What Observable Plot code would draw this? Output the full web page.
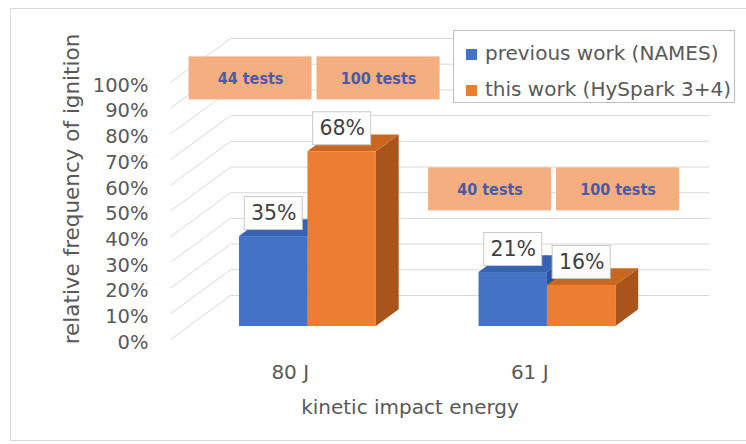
<!DOCTYPE html>
<html>
<head>
<meta charset="utf-8">
<script src="https://cdn.jsdelivr.net/npm/d3@7"></script>
<script src="https://cdn.jsdelivr.net/npm/@observablehq/plot@0.6"></script>
<style>
  html, body { margin: 0; padding: 0; background: #fff; }
  body { width: 746px; height: 444px; overflow: hidden; position: relative; font-family: "DejaVu Sans", sans-serif; }
  #frame { position: absolute; left: 10px; top: 8px; width: 900px; height: 433px; border: 1px solid #d9d9d9; box-sizing: border-box; }
  #chart { position: absolute; left: 0; top: 0; }
  #legend { position: absolute; left: 453px; top: 30px; width: 282px; height: 73px; box-sizing: border-box;
            border: 1px solid #bfbfbf; background: #fff; color: #595959; font-size: 20px; }
  #legend .row { position: absolute; left: 12px; height: 24px; line-height: 24px; white-space: nowrap; }
  #legend .sw { display: inline-block; width: 11px; height: 11px; margin-right: 8px; vertical-align: 0px; }
</style>
</head>
<body>
<div id="frame"></div>
<div id="chart"></div>
<div id="legend"></div>
<script>
// ---- data ----
const categories = ["80 J", "61 J"];
const seriesNames = ["previous work (NAMES)", "this work (HySpark 3+4)"];
const previousWork = [35, 21];   // % ignition
const thisWork = [68, 16];       // % ignition
const previousTests = [44, 40];  // number of tests
const thisTests = [100, 100];
const yTicks = [0, 10, 20, 30, 40, 50, 60, 70, 80, 90, 100];

// ---- styling / 3D layout ----
const FONT = "DejaVu Sans";
const colors = {
  front: ["#4472c4", "#ed7d31"],
  top:   ["#3562b2", "#c9661f"],
  side:  ["#2d5296", "#a9541b"]
};
const BAND = 3.5;          // width of one category slot (in bar widths)
const GAP = 0.75;          // space left of the first bar in a slot
const FLOOR = categories.length * BAND;
const KX = 0.877;          // horizontal shift per unit of depth (bar widths)
const KY = 17.12;          // vertical shift per unit of depth (percent)
const Z_FRONT = 0.295;     // depth of the bar fronts
const Z_DEPTH = 0.38;      // bar depth
const NOTE_X = [1.17, 3.04];     // note boxes, offsets inside a slot
const NOTE_Y = [101.6, 58.4];    // note boxes, height per category

const valuesBySeries = [previousWork, thisWork];
const testsBySeries = [previousTests, thisTests];

const bars = [];
categories.forEach((cat, c) => {
  seriesNames.forEach((name, s) => {
    bars.push({cat, c, s, id: c + "-" + s, x0: c * BAND + GAP + s, v: valuesBySeries[s][c]});
  });
});

const zf = Z_FRONT, zb = Z_FRONT + Z_DEPTH;
const frontOf = b => ({...b, x1: b.x0 + zf * KX, x2: b.x0 + 1 + zf * KX, y1: zf * KY, y2: b.v + zf * KY});
const topOf = b => [
  {id: b.id, s: b.s, y: b.v + zf * KY, x1: b.x0 + zf * KX, x2: b.x0 + 1 + zf * KX},
  {id: b.id, s: b.s, y: b.v + zf * KY + Z_DEPTH * KY, x1: b.x0 + zb * KX, x2: b.x0 + 1 + zb * KX}
];
const sideOf = b => [
  {id: b.id, s: b.s, x: b.x0 + 1 + zf * KX, y1: zf * KY, y2: b.v + zf * KY},
  {id: b.id, s: b.s, x: b.x0 + 1 + zb * KX, y1: zb * KY, y2: b.v + zb * KY}
];

const barMarks = [];
[0, 1].forEach(s => {
  const bs = bars.filter(b => b.s === s);
  barMarks.push(
    Plot.areaY(bs.flatMap(sideOf), {x: "x", y1: "y1", y2: "y2", z: "id", fill: colors.side[s]}),
    Plot.areaX(bs.flatMap(topOf), {y: "y", x1: "x1", x2: "x2", z: "id", fill: colors.top[s]}),
    Plot.rect(bs.map(frontOf), {x1: "x1", x2: "x2", y1: "y1", y2: "y2", fill: colors.front[s]})
  );
});

// value labels above each bar front
const labels = bars.map(b => ({cx: b.x0 + 0.5 + zf * KX, cy: b.v + zf * KY, text: b.v + "%"}));
// test-count notes
const notes = [];
categories.forEach((cat, c) => {
  seriesNames.forEach((name, s) => {
    notes.push({x: c * BAND + NOTE_X[s], y: NOTE_Y[c], text: testsBySeries[s][c] + " tests"});
  });
});

const grid = yTicks.map(v => ({v}));

const chart = Plot.plot({
  width: 746,
  height: 444,
  marginLeft: 170,
  marginRight: 97,
  marginTop: 82,
  marginBottom: 105,
  x: {domain: [0, FLOOR], axis: null},
  y: {domain: [0, 100], axis: null},
  style: {fontFamily: FONT, color: "#595959", background: "transparent", overflow: "visible"},
  marks: [
    // gridlines: left wall diagonals and back wall
    Plot.link(grid, {x1: 0, y1: "v", x2: KX, y2: d => d.v + KY, stroke: "#d9d9d9", strokeWidth: 1}),
    Plot.link(grid, {x1: KX, y1: d => d.v + KY, x2: FLOOR + KX, y2: d => d.v + KY, stroke: "#d9d9d9", strokeWidth: 1}),
    ...barMarks,
    // value labels
    Plot.rect(labels, {x1: "cx", x2: "cx", y1: "cy", y2: "cy", insetLeft: -29, insetRight: -29,
      insetTop: -16.5, insetBottom: -16.5, dy: -23, fill: "#fff", stroke: "#c8c8c8", strokeWidth: 1}),
    Plot.text(labels, {x: "cx", y: "cy", text: "text", dy: -23, fontSize: 20.5, fill: "#404040"}),
    // test-count notes
    Plot.rect(notes, {x1: "x", x2: "x", y1: "y", y2: "y", insetLeft: -61.5, insetRight: -61.5,
      insetTop: -21.5, insetBottom: -21.5, fill: "#f4ae80"}),
    Plot.text(notes, {x: "x", y: "y", text: "text", fontSize: 16, fontWeight: "bold",
      fontFamily: "DejaVu Sans Condensed", fill: "#4a5aa6"}),
    // axes
    Plot.axisY(yTicks, {tickSize: 0, tickPadding: 22, tickFormat: d => d + "%", fontSize: 19.5, dy: 3, fill: "#595959", label: null}),
    Plot.text(categories, {x: (d, i) => i * BAND + BAND / 2, y: 0, text: d => d, dy: 33, fontSize: 20, fill: "#595959"}),
    Plot.text(["kinetic impact energy"], {x: FLOOR / 2, y: 0, text: d => d, dy: 68, fontSize: 20, fill: "#595959"}),
    Plot.text(["relative frequency of ignition"], {x: 0, y: (100 + KY) / 2, text: d => d, dx: -98, rotate: -90, fontSize: 21.5, fill: "#595959"})
  ]
});
document.getElementById("chart").appendChild(chart);

// legend
const legend = document.getElementById("legend");
seriesNames.forEach((name, s) => {
  const row = document.createElement("div");
  row.className = "row";
  row.style.top = (s === 0 ? 10 : 46) + "px";
  row.innerHTML = `<span class="sw" style="background:${colors.front[s]}"></span>${name}`;
  legend.appendChild(row);
});
</script>
</body>
</html>
